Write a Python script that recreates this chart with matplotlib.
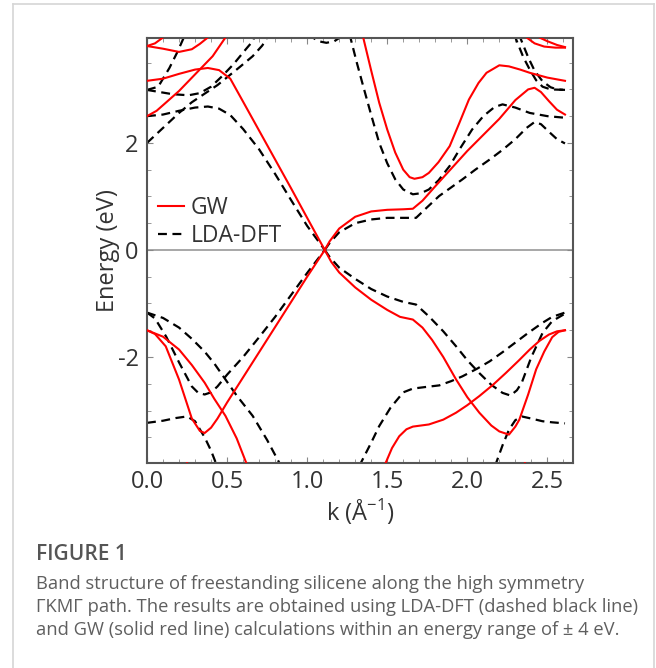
import matplotlib
matplotlib.use('Agg')
import matplotlib.pyplot as plt
from matplotlib.lines import Line2D
from matplotlib.ticker import MultipleLocator, FixedLocator

plt.rcParams['font.family'] = ['Open Sans', 'DejaVu Sans']

# Точки зон (k в 1/Å, E в эВ), снятые вдоль пути Γ-K-M-Γ
# LDA-DFT (чёрный пунктир)
lda_val_gk = ([0, 0.05, 0.12, 0.2, 0.28, 0.32, 0.36, 0.40, 0.44, 0.5, 0.6, 0.7, 0.8, 0.9, 1.0, 1.11],
              [-1.17, -1.28, -1.62, -2.10, -2.55, -2.67, -2.70, -2.66, -2.55, -2.33, -2.0, -1.63, -1.25, -0.84, -0.43, 0.0])
lda_val_g_b = ([0, 0.1, 0.2, 0.28, 0.36, 0.42, 0.49, 0.56, 0.66, 0.75, 0.825, 0.85],
               [-1.17, -1.27, -1.45, -1.66, -1.90, -2.12, -2.42, -2.72, -3.10, -3.55, -3.97, -4.2])
lda_val_g_c = ([0, 0.1, 0.18, 0.25, 0.30, 0.36, 0.40, 0.43, 0.45],
               [-3.23, -3.19, -3.14, -3.11, -3.20, -3.50, -3.75, -3.98, -4.2])
lda_val_km = ([1.11, 1.14, 1.2, 1.3, 1.4, 1.5, 1.6, 1.68, 1.76, 1.85, 1.93, 2.0, 2.075, 2.15, 2.22, 2.27, 2.31, 2.34, 2.40, 2.47, 2.53, 2.61],
              [0.0, -0.13, -0.33, -0.54, -0.73, -0.87, -0.97, -1.02, -1.24, -1.52, -1.80, -2.06, -2.30, -2.52, -2.67, -2.72, -2.62, -2.48, -2.0, -1.55, -1.33, -1.19])
lda_val_m_b = ([1.30, 1.335, 1.40, 1.45, 1.52, 1.60, 1.66, 1.74, 1.825, 1.90, 1.97, 2.06, 2.14, 2.22, 2.30, 2.38, 2.47, 2.53, 2.61],
               [-4.3, -3.98, -3.60, -3.29, -2.95, -2.66, -2.59, -2.56, -2.53, -2.45, -2.36, -2.22, -2.08, -1.91, -1.73, -1.55, -1.36, -1.25, -1.17])
lda_val_m_c = ([2.15, 2.18, 2.22, 2.26, 2.30, 2.34, 2.40, 2.47, 2.53, 2.61],
               [-4.3, -3.98, -3.65, -3.36, -3.18, -3.11, -3.15, -3.20, -3.22, -3.24])
lda_con_gk = ([0, 0.1, 0.2, 0.3, 0.38, 0.45, 0.52, 0.6, 0.7, 0.8, 0.9, 1.0, 1.11],
              [2.50, 2.53, 2.60, 2.66, 2.68, 2.64, 2.52, 2.26, 1.88, 1.42, 0.93, 0.45, 0.0])
lda_con_g_a = ([0, 0.1, 0.2, 0.28, 0.36, 0.44, 0.51, 0.58, 0.66, 0.72, 0.75, 0.78],
               [2.0, 2.28, 2.56, 2.76, 2.92, 3.08, 3.25, 3.42, 3.62, 3.82, 3.97, 4.2])
lda_con_g_b = ([0, 0.08, 0.16, 0.26, 0.33, 0.40, 0.47, 0.54, 0.62, 0.66, 0.70],
               [2.99, 2.95, 2.91, 2.89, 2.93, 3.05, 3.25, 3.47, 3.76, 3.90, 4.2])
lda_con_g_c = ([0, 0.07, 0.14, 0.19, 0.23, 0.25],
               [2.99, 3.05, 3.40, 3.70, 3.97, 4.2])
lda_con_k_top = ([0.98, 1.02, 1.07, 1.12, 1.17, 1.22, 1.26],
                 [4.3, 4.0, 3.90, 3.87, 3.90, 4.0, 4.3])
lda_con_km = ([1.11, 1.14, 1.2, 1.3, 1.4, 1.5, 1.6, 1.68, 1.75, 1.825, 1.9, 1.97, 2.05, 2.14, 2.22, 2.30, 2.37, 2.42, 2.46, 2.52, 2.56, 2.61],
              [0.0, 0.13, 0.33, 0.50, 0.57, 0.60, 0.60, 0.60, 0.80, 1.01, 1.17, 1.32, 1.50, 1.69, 1.87, 2.07, 2.28, 2.39, 2.35, 2.18, 2.07, 1.99])
lda_con_m_u = ([1.25, 1.27, 1.31, 1.35, 1.40, 1.45, 1.50, 1.55, 1.60, 1.66, 1.71, 1.76, 1.82, 1.89, 1.96, 2.03, 2.10, 2.17, 2.22, 2.30, 2.39, 2.5, 2.61],
               [4.3, 3.97, 3.5, 3.06, 2.52, 2.0, 1.62, 1.32, 1.13, 1.04, 1.06, 1.13, 1.30, 1.57, 1.92, 2.25, 2.50, 2.67, 2.72, 2.66, 2.56, 2.50, 2.47])
lda_con_g2_a = ([2.28, 2.30, 2.35, 2.39, 2.43, 2.47, 2.52, 2.61],
                [4.3, 3.97, 3.6, 3.37, 3.17, 3.05, 3.0, 2.99])
lda_con_g2_b = ([2.31, 2.33, 2.38, 2.42, 2.47, 2.52, 2.56, 2.61],
                [4.3, 3.97, 3.6, 3.35, 3.15, 3.04, 3.0, 2.99])

# GW (красная сплошная)
gw_val_gk = ([0, 0.05, 0.117, 0.2, 0.28, 0.33, 0.36, 0.40, 0.44, 0.5, 0.6, 0.7, 0.8, 0.9, 1.0, 1.11],
             [-1.50, -1.57, -1.80, -2.42, -3.15, -3.38, -3.42, -3.32, -3.15, -2.85, -2.38, -1.91, -1.44, -0.97, -0.50, 0.0])
gw_val_g_b = ([0, 0.1, 0.2, 0.28, 0.36, 0.42, 0.49, 0.56, 0.62, 0.64],
              [-1.50, -1.62, -1.86, -2.15, -2.48, -2.78, -3.10, -3.52, -3.98, -4.2])
gw_val_g_low = ([0.18, 0.25, 0.32], [-4.3, -3.98, -4.3])
gw_val_km = ([1.11, 1.15, 1.2, 1.3, 1.4, 1.5, 1.58, 1.66, 1.72, 1.78, 1.85, 1.93, 2.0, 2.075, 2.15, 2.2, 2.26, 2.30, 2.325, 2.38, 2.43, 2.48, 2.53, 2.57, 2.61],
             [0.0, -0.22, -0.42, -0.70, -0.93, -1.12, -1.25, -1.30, -1.45, -1.68, -2.0, -2.42, -2.75, -3.04, -3.28, -3.39, -3.45, -3.30, -3.17, -2.70, -2.23, -1.90, -1.63, -1.53, -1.50])
gw_val_m_b = ([1.47, 1.49, 1.53, 1.575, 1.62, 1.66, 1.76, 1.85, 1.93, 2.0, 2.075, 2.16, 2.24, 2.32, 2.39, 2.45, 2.51, 2.56, 2.61],
              [-4.3, -3.98, -3.70, -3.48, -3.35, -3.30, -3.26, -3.17, -3.04, -2.90, -2.73, -2.52, -2.30, -2.07, -1.86, -1.70, -1.58, -1.52, -1.50])
gw_val_m_low = ([2.30, 2.36, 2.42], [-4.3, -3.98, -4.3])
gw_con_gk = ([0, 0.1, 0.2, 0.3, 0.38, 0.45, 0.52, 0.6, 0.7, 0.8, 0.9, 1.0, 1.11],
             [3.16, 3.20, 3.29, 3.37, 3.40, 3.36, 3.20, 2.77, 2.23, 1.69, 1.15, 0.60, 0.0])
gw_con_g_a = ([0, 0.06, 0.117, 0.2, 0.3, 0.41, 0.49, 0.51],
              [2.50, 2.60, 2.75, 2.97, 3.28, 3.62, 3.97, 4.2])
gw_con_g_b = ([0, 0.1, 0.2, 0.28, 0.33, 0.38, 0.42],
              [3.81, 3.76, 3.70, 3.75, 3.85, 3.97, 4.2])
gw_con_g_c = ([0, 0.05, 0.1, 0.13], [3.81, 3.86, 3.97, 4.2])
gw_con_km = ([1.11, 1.14, 1.2, 1.3, 1.4, 1.5, 1.6, 1.66, 1.72, 1.8, 1.9, 2.0, 2.1, 2.2, 2.3, 2.38, 2.42, 2.46, 2.51, 2.56, 2.61],
             [0.0, 0.16, 0.40, 0.62, 0.72, 0.75, 0.76, 0.77, 0.92, 1.19, 1.52, 1.85, 2.15, 2.45, 2.80, 3.00, 3.03, 2.95, 2.78, 2.62, 2.53])
gw_con_m_u = ([1.31, 1.35, 1.40, 1.45, 1.50, 1.55, 1.60, 1.64, 1.67, 1.72, 1.76, 1.82, 1.89, 1.95, 2.01, 2.07, 2.12, 2.2, 2.26, 2.33, 2.39, 2.5, 2.61],
              [4.3, 3.97, 3.35, 2.75, 2.25, 1.82, 1.50, 1.36, 1.33, 1.36, 1.44, 1.64, 1.94, 2.37, 2.81, 3.12, 3.31, 3.45, 3.43, 3.37, 3.31, 3.22, 3.16])
gw_con_g2_a = ([2.34, 2.37, 2.42, 2.48, 2.55, 2.61], [4.2, 3.97, 3.86, 3.80, 3.78, 3.78])
gw_con_g2_b = ([2.42, 2.45, 2.50, 2.56, 2.61], [4.1, 3.97, 3.90, 3.83, 3.79])

lda_bands = [lda_val_gk, lda_val_g_b, lda_val_g_c, lda_val_km, lda_val_m_b, lda_val_m_c,
             lda_con_gk, lda_con_g_a, lda_con_g_b, lda_con_g_c, lda_con_k_top, lda_con_km,
             lda_con_m_u, lda_con_g2_a, lda_con_g2_b]
gw_bands = [gw_val_gk, gw_val_g_b, gw_val_g_low, gw_val_km, gw_val_m_b, gw_val_m_low,
            gw_con_gk, gw_con_g_a, gw_con_g_b, gw_con_g_c, gw_con_km, gw_con_m_u,
            gw_con_g2_a, gw_con_g2_b]

energy_ticks = [-2, 0, 2]

caption_title = 'FIGURE 1'
caption_lines = [
    'Band structure of freestanding silicene along the high symmetry',
    'ΓKMΓ path. The results are obtained using LDA-DFT (dashed black line)',
    'and GW (solid red line) calculations within an energy range of ± 4 eV.',
]

fig = plt.figure(figsize=(6.56, 6.68), dpi=100)

# рамка карточки вокруг рисунка
frame_col = '#d6d6d6'
fig.add_artist(Line2D([13 / 656, 654 / 656], [1 - 4 / 668, 1 - 4 / 668], color=frame_col, lw=1.2))
fig.add_artist(Line2D([13 / 656, 13 / 656], [0, 1 - 4 / 668], color=frame_col, lw=1.2))
fig.add_artist(Line2D([654 / 656, 654 / 656], [0, 1 - 4 / 668], color=frame_col, lw=1.2))

ax = fig.add_axes([147 / 656, 1 - 463 / 668, 426 / 656, 425 / 668])

ax.axhline(0, color='#a0a0a0', lw=1.3, zorder=1)

for k, e in lda_bands:
    ax.plot(k, e, color='black', lw=1.6, linestyle=(0, (4, 2.5)), zorder=2)
for k, e in gw_bands:
    ax.plot(k, e, color='#ff0000', lw=1.5, zorder=3)

ax.set_xlim(0, 2.66)
ax.set_ylim(-3.98, 3.96)
ax.xaxis.set_major_locator(MultipleLocator(0.5))
ax.xaxis.set_minor_locator(MultipleLocator(0.1))
ax.yaxis.set_major_locator(FixedLocator(energy_ticks))
ax.yaxis.set_minor_locator(MultipleLocator(0.5))
ax.xaxis.set_major_formatter(plt.FuncFormatter(lambda v, p: f'{v:.1f}'))
ax.yaxis.set_major_formatter(plt.FuncFormatter(lambda v, p: f'{v:.0f}'))
ax.tick_params(which='both', direction='in', top=True, right=True, color='#888888',
               labelsize=17, labelcolor='#333333')
ax.tick_params(axis='x', pad=5)
ax.tick_params(axis='y', pad=6)
ax.tick_params(which='major', length=4, width=0.8)
ax.tick_params(which='minor', length=3, width=0.6)
for sp in ax.spines.values():
    sp.set_color('#555555')
    sp.set_linewidth(1.5)

ax.set_xlabel('k (Å$^{\\mathregular{-1}}$)', fontsize=17, color='#333333', labelpad=2)
ax.set_ylabel('Energy (eV)', fontsize=17, color='#333333', labelpad=-2)

handles = [Line2D([], [], color='#ff0000', lw=1.5),
           Line2D([], [], color='black', lw=1.6, linestyle=(0, (4, 2.5)))]
leg = ax.legend(handles, ['GW', 'LDA-DFT'], loc='upper left', bbox_to_anchor=(0.0, 0.656),
                frameon=False, fontsize=16.5, handlelength=1.1, handletextpad=0.3,
                labelspacing=0.2, borderaxespad=0.1)
for t in leg.get_texts():
    t.set_color('#333333')

# подпись под рисунком
fig.text(36 / 656, 1 - 555 / 668, caption_title, fontsize=15, fontweight='semibold',
         color='#555555', va='center', ha='left')
for i, line in enumerate(caption_lines):
    fig.text(36 / 656, 1 - (584 + 23 * i) / 668, line, fontsize=13.2, color='#5f5f5f',
             va='center', ha='left')

fig.savefig('out.png', dpi=100)
